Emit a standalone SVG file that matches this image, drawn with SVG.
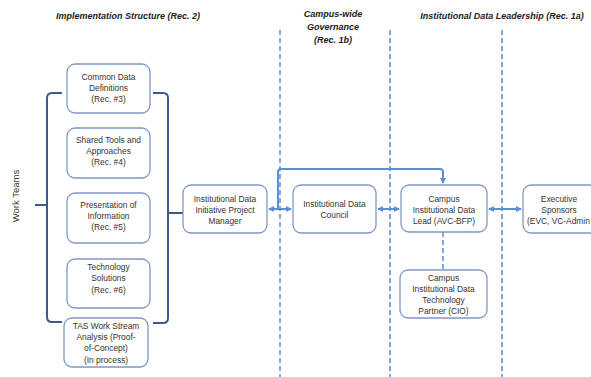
<svg xmlns="http://www.w3.org/2000/svg" width="591" height="377" viewBox="0 0 591 377">
<style>
.box{fill:#fff;stroke:#7f98c4;stroke-width:1.3}
.t{font-family:"Liberation Sans",Arial,sans-serif;font-size:8.4px;fill:#333;text-anchor:middle}
.h{font-family:"Liberation Sans",Arial,sans-serif;font-size:9px;font-weight:bold;font-style:italic;fill:#222;text-anchor:middle}
.lane{stroke:#5b8fd0;stroke-width:1.5;stroke-dasharray:5,3;fill:none}
.br{stroke:#3d5a8c;stroke-width:2;fill:none}
.ar{stroke:#5b8fd0;stroke-width:2;fill:none}
</style>
<defs>
<marker id="ah" markerWidth="6" markerHeight="6" refX="5" refY="3" orient="auto" markerUnits="userSpaceOnUse">
<path d="M0,0 L6,3 L0,6 z" fill="#5b8fd0"/>
</marker>
<marker id="as" markerWidth="6" markerHeight="6" refX="1" refY="3" orient="auto" markerUnits="userSpaceOnUse">
<path d="M6,0 L0,3 L6,6 z" fill="#5b8fd0"/>
</marker>
</defs>

<g id="headers">
<text class="h" x="128" y="19">Implementation Structure (Rec. 2)</text>
<text class="h" x="333" y="17">Campus-wide</text>
<text class="h" x="333" y="30">Governance</text>
<text class="h" x="333" y="43">(Rec. 1b)</text>
<text class="h" x="502" y="19">Institutional Data Leadership (Rec. 1a)</text>
</g>

<g id="lanes">
<line class="lane" x1="280" y1="30" x2="280" y2="377"/>
<line class="lane" x1="390" y1="30" x2="390" y2="377"/>
<line class="lane" x1="502" y1="30" x2="502" y2="377"/>
</g>

<g id="connectors">
<path class="br" d="M62,93 H52 Q47,93 47,98 V317 Q47,322 52,322 H62"/>
<line class="br" x1="35" y1="205" x2="47" y2="205"/>
<path class="br" d="M153,93 H163 Q168,93 168,98 V318 Q168,323 163,323 H153"/>
<line class="br" x1="168" y1="213" x2="183" y2="213"/>
<line class="ar" x1="269" y1="209" x2="291" y2="209" marker-start="url(#as)" marker-end="url(#ah)"/>
<path class="ar" d="M278,209 V172 Q278,169 281,169 H440 Q443,169 443,172 V183" marker-end="url(#ah)"/>
<line class="ar" x1="378" y1="209" x2="399" y2="209" marker-start="url(#as)" marker-end="url(#ah)"/>
<line class="ar" x1="489" y1="209" x2="521" y2="209" marker-start="url(#as)" marker-end="url(#ah)"/>
<line class="lane" x1="443" y1="232" x2="443" y2="270"/>
</g>

<g id="work-teams">
<text class="t" x="0" y="0" transform="translate(19,196) rotate(-90)" style="font-size:9.5px">Work Teams</text>
</g>

<g id="n-defs">
<rect class="box" x="67" y="64" width="83" height="49" rx="8"/>
<text class="t" x="108.5" y="80">Common Data</text>
<text class="t" x="108.5" y="91">Definitions</text>
<text class="t" x="108.5" y="102">(Rec. #3)</text>
</g>
<g id="n-tools">
<rect class="box" x="67" y="128" width="83" height="50" rx="8"/>
<text class="t" x="108.5" y="143">Shared Tools and</text>
<text class="t" x="108.5" y="154">Approaches</text>
<text class="t" x="108.5" y="165">(Rec. #4)</text>
</g>
<g id="n-pres">
<rect class="box" x="67" y="193" width="83" height="50" rx="8"/>
<text class="t" x="108.5" y="208">Presentation of</text>
<text class="t" x="108.5" y="219">Information</text>
<text class="t" x="108.5" y="230">(Rec. #5)</text>
</g>
<g id="n-tech">
<rect class="box" x="67" y="259" width="83" height="49" rx="8"/>
<text class="t" x="108.5" y="270">Technology</text>
<text class="t" x="108.5" y="281">Solutions</text>
<text class="t" x="108.5" y="293">(Rec. #6)</text>
</g>
<g id="n-tas">
<rect class="box" x="64" y="318" width="84" height="49" rx="8"/>
<text class="t" x="106" y="329">TAS Work Stream</text>
<text class="t" x="106" y="340">Analysis (Proof-</text>
<text class="t" x="106" y="351">of-Concept)</text>
<text class="t" x="106" y="363">(In process)</text>
</g>
<g id="n-pm">
<rect class="box" x="183" y="185" width="84" height="48" rx="8"/>
<text class="t" x="225" y="202">Institutional Data</text>
<text class="t" x="225" y="213">Initiative Project</text>
<text class="t" x="225" y="224">Manager</text>
</g>
<g id="n-council">
<rect class="box" x="293" y="185" width="83" height="48" rx="8"/>
<text class="t" x="334.5" y="207">Institutional Data</text>
<text class="t" x="334.5" y="218">Council</text>
</g>
<g id="n-lead">
<rect class="box" x="401" y="185" width="86" height="47" rx="8"/>
<text class="t" x="444" y="202">Campus</text>
<text class="t" x="444" y="213">Institutional Data</text>
<text class="t" x="444" y="224">Lead (AVC-BFP)</text>
</g>
<g id="n-exec">
<rect class="box" x="523" y="185" width="82" height="48" rx="8"/>
<text class="t" x="559" y="202">Executive</text>
<text class="t" x="559" y="213">Sponsors</text>
<text class="t" x="527" y="224" style="text-anchor:start">(EVC, VC-Admin</text>
</g>
<g id="n-cio">
<rect class="box" x="400" y="270" width="87" height="48" rx="8"/>
<text class="t" x="443.5" y="281">Campus</text>
<text class="t" x="443.5" y="292">Institutional Data</text>
<text class="t" x="443.5" y="303">Technology</text>
<text class="t" x="443.5" y="314">Partner (CIO)</text>
</g>
</svg>
